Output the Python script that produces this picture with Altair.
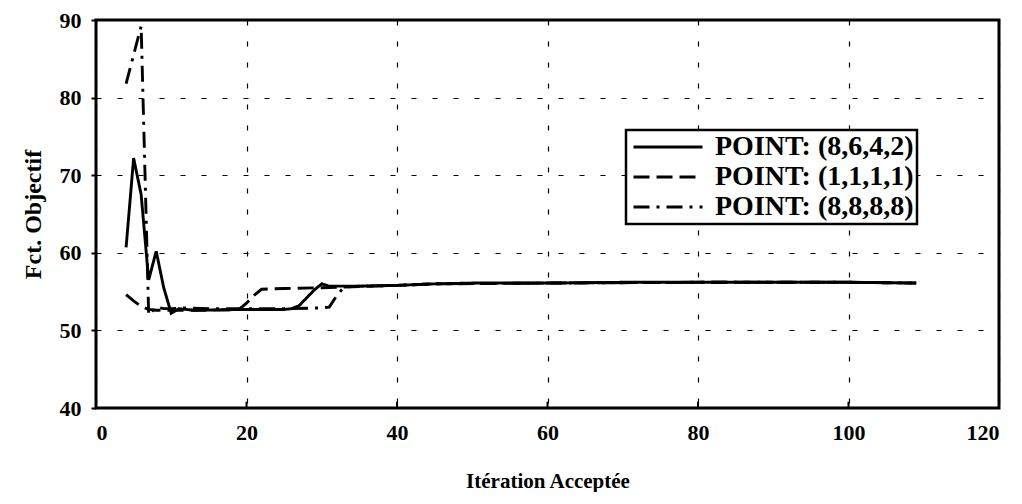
import altair as alt
import pandas as pd

# ---- data ----
series_names = ["POINT: (8,6,4,2)", "POINT: (1,1,1,1)", "POINT: (8,8,8,8)"]

x_a = [4, 5, 6, 7, 8, 9, 10, 11, 13, 20, 25, 26, 27, 28, 29, 30, 31, 32, 35, 40, 45, 50, 60, 70, 80, 90, 100, 109]
y_a = [60.7, 72.2, 67.5, 56.5, 60.2, 55.5, 52.2, 52.8, 52.6, 52.7, 52.7, 52.8, 53.2, 54.2, 55.2, 56.0, 55.7, 55.7,
       55.7, 55.8, 56.0, 56.1, 56.1, 56.2, 56.2, 56.2, 56.2, 56.1]

x_b = [4, 5, 6, 7, 8, 10, 15, 19, 20, 21, 22, 25, 30, 33, 40, 45, 60, 80, 100, 109]
y_b = [54.6, 53.8, 53.1, 52.7, 52.6, 52.6, 52.6, 52.7, 53.5, 54.5, 55.3, 55.4, 55.5, 55.6, 55.8, 56.0, 56.1, 56.2,
       56.2, 56.1]

x_c = [4, 5, 6, 7, 8, 9, 10, 12, 15, 20, 25, 30, 31, 32, 33, 35, 40, 45, 60, 80, 100, 109]
y_c = [81.8, 85.5, 89.2, 52.0, 53.0, 52.8, 52.8, 52.9, 52.8, 52.8, 52.8, 52.9, 53.0, 54.5, 55.6, 55.7, 55.8, 56.0,
       56.1, 56.2, 56.2, 56.1]

x_ticks = [0, 20, 40, 60, 80, 100, 120]
y_ticks = [40, 50, 60, 70, 80, 90]
inner_x_ticks = [20, 40, 60, 80, 100]

rows = []
for name, xs, ys in zip(series_names, [x_a, x_b, x_c], [y_a, y_b, y_c]):
    for xv, yv in zip(xs, ys):
        rows.append({"series": name, "x": xv, "y": yv})
df = pd.DataFrame(rows)

FONT = "Liberation Serif"

x_scale = alt.Scale(domain=[0, 120], nice=False, zero=False)
y_scale = alt.Scale(domain=[40, 90], nice=False, zero=False)

lines = alt.Chart(df).mark_line(color="black", strokeWidth=2.9, clip=True).encode(
    x=alt.X("x:Q", scale=x_scale,
            axis=alt.Axis(values=x_ticks, title="Itération Acceptée", grid=True, gridDash=[5, 16],
                          gridColor="black", gridWidth=1.2, gridOpacity=1, ticks=False, domain=False,
                          labelPadding=14, titlePadding=27, format="d",
                          labelFontSize=22, titleFontSize=21)),
    y=alt.Y("y:Q", scale=y_scale,
            axis=alt.Axis(values=y_ticks, title="Fct. Objectif", grid=True, gridDash=[5, 16],
                          gridColor="black", gridWidth=1.2, gridOpacity=1, ticks=True, tickSize=5,
                          tickWidth=2, tickColor="black", domain=False, labelPadding=10,
                          titlePadding=14, format="d", labelFontSize=22, titleFontSize=24)),
    strokeDash=alt.StrokeDash(
        "series:N",
        scale=alt.Scale(domain=series_names, range=[[1, 0], [16, 7], [16, 7, 3, 7]]),
        legend=alt.Legend(title=None, orient="none", legendX=530, legendY=110, direction="vertical",
                          symbolType="M-3,0H3", symbolSize=529, symbolStrokeWidth=2.9,
                          symbolStrokeColor="black", symbolOffset=25, labelFont=FONT,
                          labelFontSize=28, labelFontWeight="bold", labelColor="black",
                          labelOffset=33, strokeColor="black", fillColor="white", padding=3,
                          rowPadding=2, labelLimit=400),
    ),
    order=alt.Order("x:Q"),
)

xticks_df = pd.DataFrame({"t": inner_x_ticks})
inner_ticks = alt.Chart(xticks_df).mark_rule(color="black", strokeWidth=2).encode(
    x=alt.X("t:Q", scale=x_scale),
    y=alt.datum(40, scale=y_scale),
    y2=alt.datum(40.8),
)

chart = alt.layer(inner_ticks, lines).properties(
    width=903,
    height=388,
    padding={"left": 88, "top": 12, "right": 15, "bottom": 84},
    autosize=alt.AutoSizeParams(type="none"),
    background="white",
).configure_view(
    stroke="black", strokeWidth=3
).configure_axis(
    labelFont=FONT, labelFontSize=22, labelFontWeight="bold", labelColor="black",
    titleFont=FONT, titleFontSize=21, titleFontWeight="bold", titleColor="black",
).configure_legend(
    strokeWidth=2.5
)

chart.save("out.html", embed_options={"renderer": "svg", "actions": False})
